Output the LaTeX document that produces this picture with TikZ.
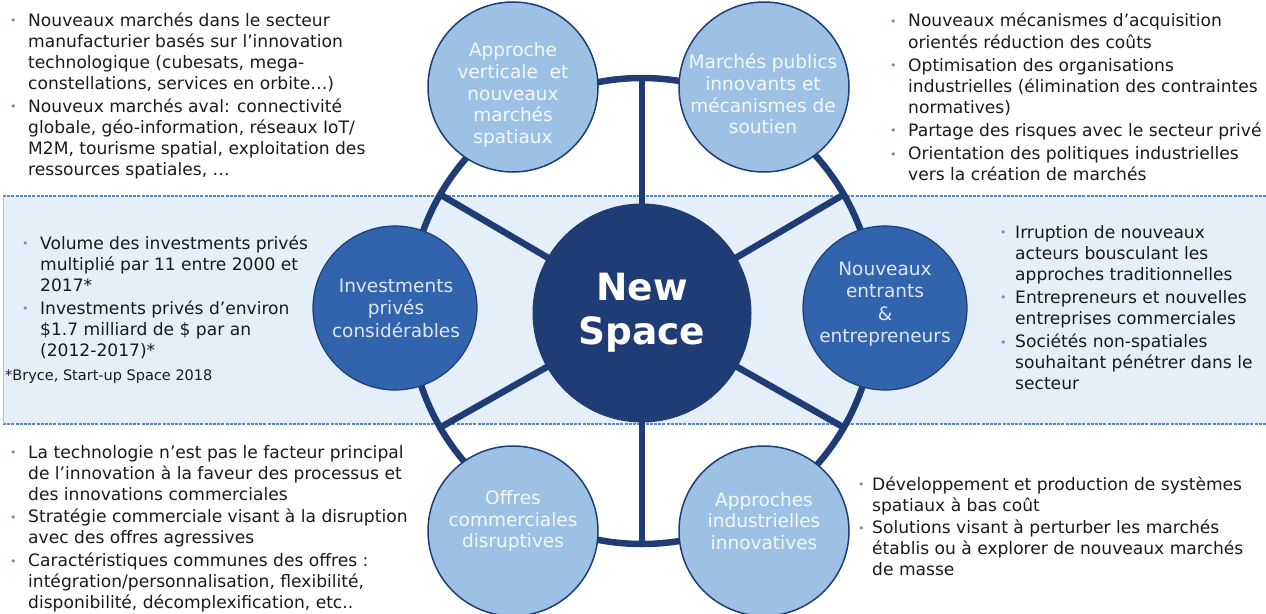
\documentclass[tikz,border=0pt]{standalone}
\usepackage{fontspec}
\setmainfont{DejaVu Sans}
\usetikzlibrary{calc}
\definecolor{navy}{HTML}{1F3D74}
\definecolor{midblue}{HTML}{3264AE}
\definecolor{lightblue}{HTML}{9DC1E5}
\definecolor{bandfill}{HTML}{E5EFF9}
\definecolor{bandline}{HTML}{5A86C2}
\definecolor{bulletc}{HTML}{7A8CB0}
\definecolor{txt}{HTML}{1A1A1A}
\definecolor{outtxt}{HTML}{F4F8FC}
\definecolor{midtxt}{HTML}{DCE7F5}
\pgfdeclarelayer{bandlayer}
\pgfdeclarelayer{ringlayer}
\pgfsetlayers{bandlayer,ringlayer,main}
\newcommand\bfont{\fontsize{17.1}{21.1}\selectfont}
\newcommand\bl{\textcolor{bulletc}{\fontsize{11}{11}\selectfont\raisebox{1.5pt}{•}}}
\tikzset{
  outer/.style={circle, draw=navy, line width=1.5pt, fill=lightblue, minimum size=170pt, inner sep=0pt},
  outtext/.style={text=outtxt, align=center, inner sep=0pt, font=\fontsize{18.5}{21.7}\selectfont},
  midc/.style={circle, draw=navy, line width=1.2pt, fill=midblue, minimum size=164pt, inner sep=0pt},
  midtext/.style={text=midtxt, align=center, inner sep=0pt, font=\fontsize{18.5}{22.5}\selectfont},
  core/.style={circle, draw=navy, line width=1pt, fill=navy, minimum size=218pt, inner sep=0pt,
    text=white, align=center, font=\fontsize{37.5}{44}\selectfont\bfseries},
  ring/.style={draw=navy, line width=6.5pt},
  blist/.style={anchor=base west, inner sep=0pt, text=txt, font=\bfont},
}
\begin{document}
\begin{tikzpicture}[x=1pt,y=-1pt]
\useasboundingbox (0,0) rectangle (1266,613);
% band
\begin{pgfonlayer}{bandlayer}
\fill[bandfill] (3,196) rectangle (1266,424);
\draw[bandline, line width=2.5pt, dash pattern=on 3pt off 1.2pt] (3,196) -- (1266,196);
\draw[bandline, line width=2.5pt, dash pattern=on 3pt off 1.2pt] (3,424) -- (1266,424);
\draw[black!25, line width=0.8pt] (3,196) -- (3,424);
\end{pgfonlayer}
% circles
\node[core] (ns) at (642,313) {New\\Space};
\node[midc] (inv) at (395,308) {};
\node[midtext] (invt) at (396,308) {Investments\\privés\\considérables};
\node[midc] (ent) at (885,308) {};
\node[midtext] (entt) at (885,304) {Nouveaux\\entrants\\\&\\entrepreneurs};
\node[outer] (tl) at (513,87) {};
\node[outtext] (tlt) at (513,95) {Approche\\verticale~ et\\nouveaux\\marchés\\spatiaux};
\node[outer] (tr) at (764,87) {};
\node[outtext] (trt) at (763,94) {Marchés publics\\innovants et\\mécanismes de\\soutien};
\node[outer] (bl) at (513,531) {};
\node[outtext] (blt) at (513,521) {Offres\\commerciales\\disruptives};
\node[outer] (br) at (764,531) {};
\node[outtext] (brt) at (764,521) {Approches\\industrielles\\innovatives};
% ring and spokes
\begin{pgfonlayer}{ringlayer}
\draw[ring] (642,311) circle[radius=233];
\foreach \a in {30,90,150,210,270,330}{
  \coordinate (r\a) at ($(642,311)+(\a:233)$);
  \draw[ring] (ns.center) -- (r\a);
}
\end{pgfonlayer}
% text blocks
\node[blist] (tltext) at (10,26) {\begin{tabular}[t]{@{}p{18pt}@{}l@{}}
\bl & Nouveaux marchés dans le secteur\\
 & manufacturier basés sur l’innovation\\
 & technologique (cubesats, mega-\\
 & constellations, services en orbite…)\\[2pt]
\bl & Nouveux marchés aval: connectivité\\
 & globale, géo-information, réseaux IoT/\\
 & M2M, tourisme spatial, exploitation des\\
 & ressources spatiales, …
\end{tabular}};
\node[blist] (trtext) at (890,27) {\begin{tabular}[t]{@{}p{18pt}@{}l@{}}
\bl & Nouveaux mécanismes d’acquisition\\
 & orientés réduction des coûts\\[2pt]
\bl & Optimisation des organisations\\
 & industrielles (élimination des contraintes\\
 & normatives)\\[2pt]
\bl & Partage des risques avec le secteur privé\\[2pt]
\bl & Orientation des politiques industrielles\\
 & vers la création de marchés
\end{tabular}};
\node[blist] (invtext) at (22,249) {\begin{tabular}[t]{@{}p{18pt}@{}l@{}}
\bl & Volume des investments privés\\
 & multiplié par 11 entre 2000 et\\
 & 2017*\\[2pt]
\bl & Investments privés d’environ\\
 & \$1.7 milliard de \$ par an\\
 & (2012-2017)*
\end{tabular}};
\node[blist, font=\fontsize{14.5}{17}\selectfont] (foot) at (5,380) {*Bryce, Start-up Space 2018};
\node[blist] (enttext) at (1000,238) {\begin{tabular}[t]{@{}p{15pt}@{}l@{}}
\bl & Irruption de nouveaux\\
 & acteurs bousculant les\\
 & approches traditionnelles\\[2pt]
\bl & Entrepreneurs et nouvelles\\
 & entreprises commerciales\\[2pt]
\bl & Sociétés non-spatiales\\
 & souhaitant pénétrer dans le\\
 & secteur
\end{tabular}};
\node[blist] (bltext) at (10,458) {\begin{tabular}[t]{@{}p{18pt}@{}l@{}}
\bl & La technologie n’est pas le facteur principal\\
 & de l’innovation à la faveur des processus et\\
 & des innovations commerciales\\[1.5pt]
\bl & Stratégie commerciale visant à la disruption\\
 & avec des offres agressives\\[1.5pt]
\bl & Caractéristiques communes des offres :\\
 & intégration/personnalisation, flexibilité,\\
 & disponibilité, décomplexification, etc..
\end{tabular}};
\node[blist] (brtext) at (858,490) {\begin{tabular}[t]{@{}p{14pt}@{}l@{}}
\bl & Développement et production de systèmes\\
 & spatiaux à bas coût\\[1.5pt]
\bl & Solutions visant à perturber les marchés\\
 & établis ou à explorer de nouveaux marchés\\
 & de masse
\end{tabular}};
\end{tikzpicture}
\end{document}
